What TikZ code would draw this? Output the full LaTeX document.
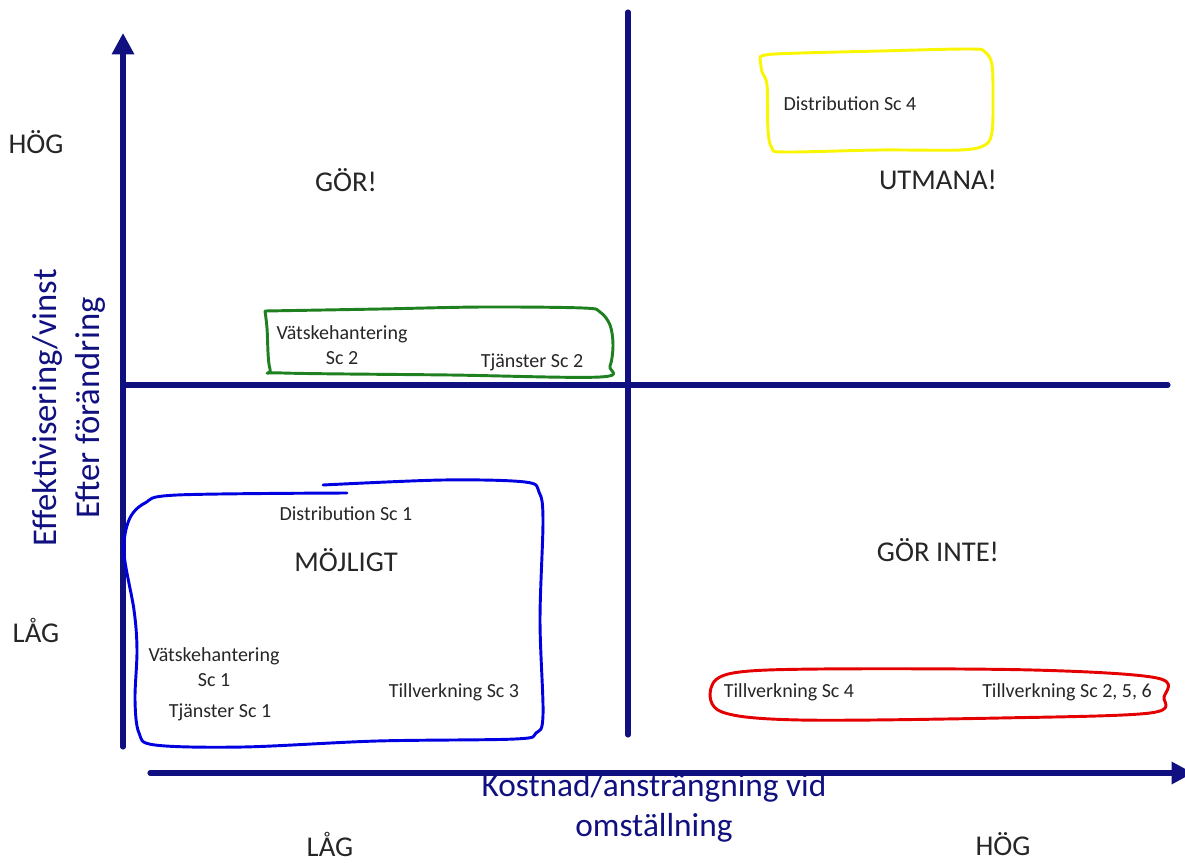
\documentclass[tikz,border=0pt]{standalone}
\usepackage{fontspec}
\setmainfont{Carlito}
\usetikzlibrary{arrows.meta, positioning, calc}

\definecolor{axisblue}{RGB}{16,16,128}
\definecolor{txtgray}{RGB}{38,38,38}
\definecolor{hlyellow}{RGB}{250,245,0}
\definecolor{hlgreen}{RGB}{30,128,30}
\definecolor{hlblue}{RGB}{0,0,225}
\definecolor{hlred}{RGB}{228,0,0}

\begin{document}
\begin{tikzpicture}[x=0.75pt, y=-0.75pt, line cap=round, line join=round,
    axis/.style={draw=axisblue, line width=3.8pt},
    ring/.style={line width=2.2pt},
    item/.style={font=\fontsize{15}{18.5}\selectfont, text=txtgray, inner sep=0pt, align=center},
    quad/.style={font=\fontsize{21.5}{25}\selectfont, text=txtgray, inner sep=0pt},
    axlbl/.style={font=\fontsize{25}{30}\selectfont, text=axisblue, inner sep=0pt, align=center},
    >={Triangle[length=16pt, width=16pt]}]
  \useasboundingbox (0,0) rectangle (1185,863);
  % axes and the two dividing lines
  \coordinate (yfoot) at (123,747);
  \coordinate (ytip) at (123,33);
  \coordinate (xfoot) at (150,773);
  \coordinate (xtip) at (1193,773);
  \coordinate (vtop) at (628,12);
  \coordinate (vbot) at (628,735);
  \coordinate (hleft) at (123,385);
  \coordinate (hright) at (1168,385);
  \draw[axis, ->] (yfoot) -- (ytip);
  \draw[axis, ->] (xfoot) -- (xtip);
  \draw[axis] (vtop) -- (vbot);
  \draw[axis] (hleft) -- (hright);

  % axis texts
  \node[quad] (yhog) at (36,142) {HÖG};
  \node[quad] (ylag) at (36,630) {LÅG};
  \node[quad] (xlag) at (330,844) {LÅG};
  \node[quad] (xhog) at (1003,844) {HÖG};
  \node[axlbl, font=\fontsize{26}{32}\selectfont, rotate=90] (ylabel) at (69,408) {Effektivisering/vinst\\Efter förändring};
  \node[axlbl] (xlabel) at (654,808) {Kostnad/ansträngning vid\\omställning};

  % quadrant names
  \node[quad] (gor) at (346,180) {GÖR!};
  \node[quad] (utmana) at (938,180) {UTMANA!};
  \node[quad] (mojligt) at (346,560) {MÖJLIGT};
  \node[quad] (gorinte) at (938,550) {GÖR INTE!};

  % hand drawn rings
  \draw[ring, hlyellow] plot[smooth, tension=0.55] coordinates {
    (760,58) (775,54) (880,51) (970,49) (985,52) (992,65) (993,100)
    (992,132) (985,145) (960,150) (880,150) (785,152) (772,148)
    (768,130) (767,85) (762,72) (760,58)};
  \draw[ring, hlgreen] plot[smooth, tension=0.55] coordinates {
    (265,311) (380,309) (483,307) (583,308) (600,312) (610,325)
    (613,345) (610,366) (600,377) (450,375) (283,373) (270,369)
    (267,328) (265,311)};
  \draw[ring, hlblue] plot[smooth, tension=0.55] coordinates {
    (347,493) (177,495) (145,503) (129,520) (124,553) (134,610)
    (137,650) (135,700) (139,733) (155,745) (243,747) (377,741)
    (515,739) (536,733) (543,715) (540,620) (543,520) (539,492)
    (525,482) (443,480) (323,485)};
  \draw[ring, hlred] plot[smooth cycle, tension=0.55] coordinates {
    (820,669) (733,673) (711,688) (722,712) (800,720) (1000,718)
    (1150,713) (1164,697) (1157,678) (1033,670)};

  % scenario texts
  \node[item] (dist4) at (850,104) {Distribution Sc 4};
  \node[item] (vatsk2) at (342,345) {Vätskehantering\\Sc 2};
  \node[item] (tjan2) at (532,362) {Tjänster Sc 2};
  \node[item] (dist1) at (346,514) {Distribution Sc 1};
  \node[item] (vatsk1) at (214,667) {Vätskehantering\\Sc 1};
  \node[item] (tjan1) at (220,712) {Tjänster Sc 1};
  \node[item] (till3) at (454,692) {Tillverkning Sc 3};
  \node[item] (till4) at (789,692) {Tillverkning Sc 4};
  \node[item] (till256) at (1067,692) {Tillverkning Sc 2, 5, 6};
\end{tikzpicture}
\end{document}
